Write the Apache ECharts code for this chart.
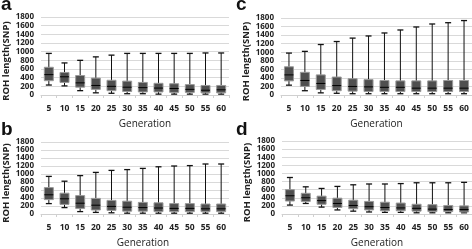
<!DOCTYPE html>
<html>
<head>
<meta charset="utf-8">
<script src="https://cdn.jsdelivr.net/npm/echarts@6/dist/echarts.min.js"></script>
<style>
  html, body { margin: 0; padding: 0; background: #fff; }
  #chart { width: 472px; height: 249px; }
</style>
</head>
<body>
<div id="chart"></div>
<script>
// generations on the x axis
const generations = ['5', '10', '15', '20', '25', '30', '35', '40', '45', '50', '55', '60'];
const yTicks = [0, 1800, 200]; // min, max, step

// each row: [min, Q1, median, Q3, max]
const panelA = [
  [230, 330, 470, 640, 960], [210, 290, 420, 520, 740], [100, 180, 280, 450, 800],
  [50, 130, 220, 390, 880], [40, 100, 200, 340, 920], [30, 80, 180, 320, 960],
  [30, 70, 170, 290, 960], [20, 70, 160, 270, 960], [20, 60, 150, 260, 960],
  [20, 60, 130, 240, 960], [20, 50, 110, 220, 970], [20, 50, 120, 220, 970]
];
const panelB = [
  [260, 360, 480, 660, 940], [160, 240, 380, 520, 820], [60, 140, 270, 460, 960],
  [40, 100, 220, 390, 1040], [30, 90, 190, 340, 1090], [20, 70, 170, 320, 1110],
  [20, 70, 160, 290, 1140], [20, 60, 150, 280, 1180], [20, 60, 140, 260, 1200],
  [20, 60, 140, 260, 1210], [20, 60, 130, 250, 1250], [20, 60, 130, 250, 1250]
];
const panelC = [
  [230, 330, 470, 660, 980], [100, 200, 340, 530, 1020], [50, 130, 270, 470, 1180],
  [40, 100, 220, 420, 1250], [30, 90, 200, 380, 1330], [30, 80, 190, 360, 1380],
  [30, 80, 180, 340, 1450], [30, 80, 180, 330, 1520], [30, 80, 160, 330, 1590],
  [30, 80, 160, 330, 1660], [30, 80, 160, 340, 1690], [30, 80, 160, 340, 1740]
];
const panelD = [
  [220, 320, 450, 600, 900], [260, 310, 400, 510, 670], [170, 240, 330, 440, 630],
  [100, 160, 260, 390, 680], [70, 130, 210, 340, 720], [50, 100, 180, 310, 740],
  [40, 80, 160, 290, 740], [40, 80, 150, 270, 750], [30, 70, 140, 240, 770],
  [30, 60, 120, 230, 770], [30, 60, 110, 210, 770], [30, 50, 110, 200, 780]
];

const panels = [
  { label: 'a', rows: panelA, grid: { left: 40, top: 17, width: 189, height: 78 }, namePad: 20 },
  { label: 'c', rows: panelC, grid: { left: 281, top: 18, width: 196, height: 77 }, namePad: 0 },
  { label: 'b', rows: panelB, grid: { left: 39, top: 142, width: 190, height: 79 }, namePad: 16 },
  { label: 'd', rows: panelD, grid: { left: 282, top: 141, width: 196, height: 78 }, namePad: 0 }
];

const font = "'Open Sans', 'Liberation Sans', sans-serif";

function renderBox(params, api) {
  const i = api.value(0);
  const lo = api.coord([i, api.value(1)]);
  const q1 = api.coord([i, api.value(2)]);
  const md = api.coord([i, api.value(3)]);
  const q3 = api.coord([i, api.value(4)]);
  const hi = api.coord([i, api.value(5)]);
  const cx = lo[0];
  const bw = 9, cw = 6;
  return {
    type: 'group',
    children: [
      { type: 'line', shape: { x1: cx, y1: hi[1], x2: cx, y2: lo[1] }, style: { stroke: '#111', lineWidth: 1 } },
      { type: 'line', shape: { x1: cx - cw / 2, y1: hi[1], x2: cx + cw / 2, y2: hi[1] }, style: { stroke: '#111', lineWidth: 1.3 } },
      { type: 'line', shape: { x1: cx - cw / 2, y1: lo[1], x2: cx + cw / 2, y2: lo[1] }, style: { stroke: '#111', lineWidth: 1.3 } },
      { type: 'rect', shape: { x: cx - bw / 2, y: q3[1], width: bw, height: q1[1] - q3[1] }, style: { fill: '#4f4f4f', stroke: '#999', lineWidth: 1 } },
      { type: 'line', shape: { x1: cx - bw / 2, y1: md[1], x2: cx + bw / 2, y2: md[1] }, style: { stroke: '#000', lineWidth: 1 } }
    ]
  };
}

const grid = [], xAxis = [], yAxis = [], series = [], graphic = [];
panels.forEach((p, k) => {
  grid.push(p.grid);
  xAxis.push({
    type: 'category', gridIndex: k, data: generations,
    name: 'Generation', nameLocation: 'middle', nameGap: 24,
    nameTextStyle: { fontFamily: font, fontSize: 10, color: '#222', padding: [0, 0, 0, p.namePad] },
    axisLine: { lineStyle: { color: '#d0d0d0' } },
    axisTick: { show: true, length: 3, lineStyle: { color: '#d0d0d0' } },
    axisLabel: { fontFamily: font, fontSize: 8.5, fontWeight: 'bold', color: '#222', margin: 9, interval: 0 }
  });
  yAxis.push({
    type: 'value', gridIndex: k, min: yTicks[0], max: yTicks[1], interval: yTicks[2],
    name: 'ROH length(SNP)', nameLocation: 'middle', nameGap: 30, nameRotate: 90,
    nameTextStyle: { fontFamily: font, fontSize: 9.5, fontWeight: 'bold', color: '#222', padding: [0, 10, 0, 0] },
    axisLine: { show: false }, axisTick: { show: false },
    splitLine: { lineStyle: { color: '#d9d9d9' } },
    axisLabel: { fontFamily: font, fontSize: 8, fontWeight: 'bold', color: '#222', margin: 7, formatter: v => String(v) }
  });
  series.push({
    type: 'custom', xAxisIndex: k, yAxisIndex: k,
    renderItem: renderBox,
    encode: { x: 0, y: [1, 2, 3, 4, 5] },
    data: p.rows.map((r, i) => [i].concat(r))
  });
  graphic.push({
    type: 'text',
    left: p.grid.left < 100 ? 1 : 236,
    top: p.grid.top < 100 ? -5 : 120,
    style: { text: p.label, font: "bold 19px 'Liberation Sans', Arial, sans-serif", fill: '#111' }
  });
});

const myChart = echarts.init(document.getElementById('chart'));
myChart.setOption({
  animation: false,
  grid, xAxis, yAxis, series, graphic
});
window.onresize = function () {
  myChart.resize();
};
</script>
</body>
</html>
